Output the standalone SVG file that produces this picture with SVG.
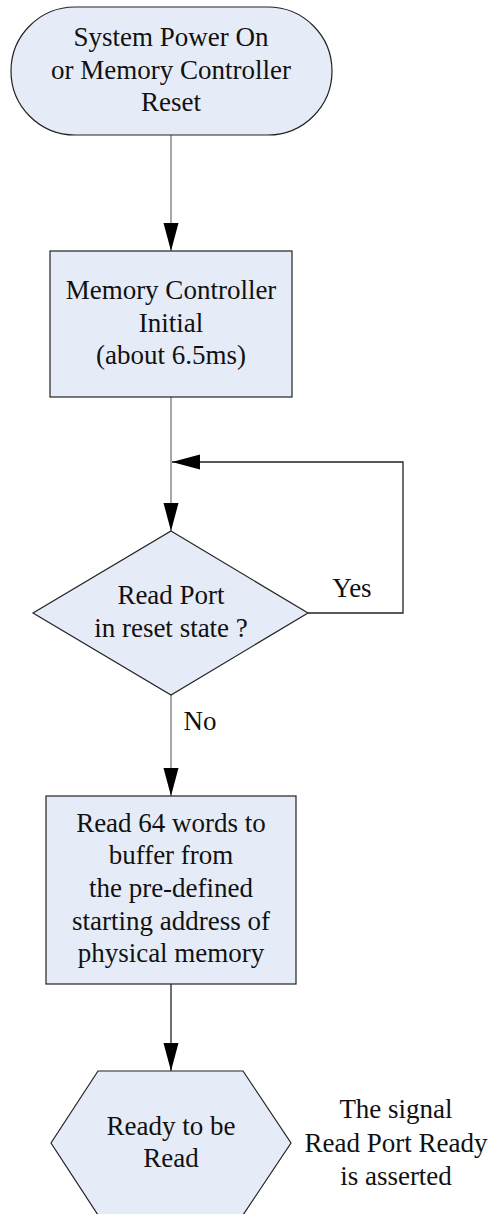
<svg xmlns="http://www.w3.org/2000/svg" width="491" height="1214" viewBox="0 0 491 1214" font-family="'Liberation Serif', 'Times New Roman', 'DejaVu Serif', serif">
  <style>
    .shape { fill: #E6ECF7; stroke: #222; stroke-width: 1.2; }
    text { font-family: 'Liberation Serif', 'Times New Roman', 'DejaVu Serif', serif; font-size: 27px; fill: #111; text-anchor: middle; }
    .conn { fill: none; stroke-width: 1.3; }
    .gray { stroke: #777; }
    .dark { stroke: #222; }
  </style>
  <defs>
    <marker id="arrow" markerUnits="userSpaceOnUse" markerWidth="28" markerHeight="16" refX="28" refY="7.5" orient="auto">
      <path d="M0,0 L28,7.5 L0,15 Z" fill="#000"/>
    </marker>
  </defs>

  <g id="connectors">
    <line class="conn gray" x1="171" y1="135" x2="171" y2="251" marker-end="url(#arrow)"/>
    <line class="conn gray" x1="171" y1="397" x2="171" y2="531" marker-end="url(#arrow)"/>
    <polyline class="conn dark" points="308,613 403,613 403,462 172,462" marker-end="url(#arrow)"/>
    <line class="conn gray" x1="171" y1="695" x2="171" y2="796" marker-end="url(#arrow)"/>
    <line class="conn dark" x1="171" y1="984" x2="171" y2="1071" marker-end="url(#arrow)"/>
    <text x="352" y="597">Yes</text>
    <text x="200" y="730">No</text>
  </g>

  <g id="start">
    <rect class="shape" x="11" y="7" width="321" height="128" rx="64" ry="64"/>
    <text x="171" y="46">System Power On</text>
    <text x="171" y="79">or Memory Controller</text>
    <text x="171" y="111">Reset</text>
  </g>

  <g id="init">
    <rect class="shape" x="50" y="251" width="242" height="146"/>
    <text x="171" y="299">Memory Controller</text>
    <text x="171" y="332">Initial</text>
    <text x="171" y="364">(about 6.5ms)</text>
  </g>

  <g id="decision">
    <polygon class="shape" points="171,531 308,613 171,695 33,613"/>
    <text x="171" y="604">Read Port</text>
    <text x="171" y="637">in reset state ?</text>
  </g>

  <g id="read-buffer">
    <rect class="shape" x="46" y="796" width="250" height="188"/>
    <text x="171" y="832">Read 64 words to</text>
    <text x="171" y="864">buffer from</text>
    <text x="171" y="897">the pre-defined</text>
    <text x="171" y="930">starting address of</text>
    <text x="171" y="962">physical memory</text>
  </g>

  <g id="ready">
    <polygon class="shape" points="98,1071 243,1071 291,1143 243,1215 98,1215 51,1143"/>
    <text x="171" y="1135">Ready to be</text>
    <text x="171" y="1167">Read</text>
  </g>

  <g id="note">
    <text x="396" y="1118">The signal</text>
    <text x="396" y="1152">Read Port Ready</text>
    <text x="396" y="1185">is asserted</text>
  </g>
</svg>
